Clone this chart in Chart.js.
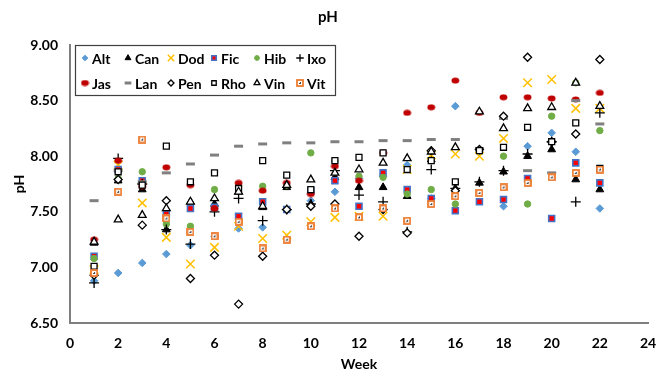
<!DOCTYPE html>
<html>
<head>
<meta charset="utf-8">
<script src="https://cdn.jsdelivr.net/npm/chart.js@4"></script>
<style>
  html, body { margin: 0; padding: 0; background: #fff; }
  #wrap { width: 670px; height: 380px; }
</style>
</head>
<body>
<div id="wrap"><canvas id="phChart" width="670" height="380"></canvas></div>
<script>
const weeks = [1, 2, 3, 4, 5, 6, 7, 8, 9, 10, 11, 12, 13, 14, 15, 16, 17, 18, 19, 20, 21, 22];
const seriesNames = ['Alt', 'Can', 'Dod', 'Fic', 'Hib', 'Ixo', 'Jas', 'Lan', 'Pen', 'Rho', 'Vin', 'Vit'];

const alt = [6.88, 6.95, 7.04, 7.12, 7.20, 7.28, 7.35, 7.36, 7.52, 7.60, 7.68, 7.80, 7.82, 7.92, 7.62, 8.45, 8.04, 7.55, 8.09, 8.21, 8.04, 7.53];
const can = [7.22, 7.78, 7.70, 7.34, 7.59, 7.57, 7.68, 7.54, 7.72, 7.57, 7.81, 7.72, 7.72, 7.64, 7.97, 7.71, 7.76, 7.86, 8.00, 8.06, 7.79, 7.70];
const dod = [6.98, 7.92, 7.58, 7.27, 7.03, 7.18, 7.37, 7.26, 7.29, 7.41, 7.45, 7.46, 7.46, 7.88, 8.01, 8.02, 8.00, 8.16, 8.66, 8.69, 8.43, 8.43];
const fic = [7.10, 7.88, 7.78, 7.48, 7.53, 7.54, 7.46, 7.59, 7.52, 7.69, 7.78, 7.55, 7.85, 7.70, 7.62, 7.51, 7.59, 7.61, 7.80, 7.44, 7.94, 7.76];
const hib = [7.08, 7.80, 7.86, 7.39, 7.37, 7.70, 7.73, 7.73, 7.74, 8.03, 7.96, 7.82, 7.81, 7.66, 7.70, 7.57, 8.05, 8.00, 7.57, 8.36, 8.66, 8.23];
const ixo = [6.86, 7.98, 7.75, 7.34, 7.21, 7.50, 7.62, 7.42, 7.52, 7.57, 7.87, 7.65, 7.59, 7.32, 7.88, 7.71, 7.77, 7.87, 8.02, 8.13, 7.59, 8.39];
const jas = [7.25, 7.96, 7.73, 7.90, 7.74, 7.53, 7.76, 7.69, 7.76, 7.66, 7.91, 7.78, 8.03, 8.39, 8.44, 8.68, 8.39, 8.53, 8.53, 8.52, 8.51, 8.57];
const lan = [7.60, 7.87, 7.77, 7.85, 7.93, 8.01, 8.09, 8.11, 8.12, 8.12, 8.13, 8.13, 8.14, 8.14, 8.15, 8.15, 8.07, 8.34, 7.87, 7.85, 8.50, 8.29];
const pen = [6.93, 7.79, 7.38, 7.60, 6.90, 7.11, 6.67, 7.10, 7.52, 7.55, 7.57, 7.28, 7.52, 7.31, 8.05, 7.69, 8.06, 8.36, 8.89, 8.13, 8.20, 8.87];
const rho = [7.01, 7.86, 7.74, 8.09, 7.77, 7.85, 7.71, 7.96, 7.83, 7.70, 7.96, 7.99, 8.03, 7.88, 7.96, 7.77, 8.05, 8.08, 8.26, 8.13, 8.30, 7.89];
const vin = [7.23, 7.43, 7.47, 7.53, 7.59, 7.62, 7.68, 7.55, 7.74, 7.79, 7.85, 7.88, 7.94, 7.98, 8.04, 8.08, 8.40, 8.25, 8.43, 8.44, 8.66, 8.45];
const vit = [6.95, 7.68, 8.15, 7.44, 7.32, 7.28, 7.41, 7.17, 7.25, 7.37, 7.53, 7.45, 7.53, 7.42, 7.57, 7.64, 7.67, 7.72, 7.76, 7.81, 7.85, 7.88];

const yTicks = [6.5, 7.0, 7.5, 8.0, 8.5, 9.0];
const xTicks = [0, 2, 4, 6, 8, 10, 12, 14, 16, 18, 20, 22, 24];

const FONT = 'Lato, "Open Sans", sans-serif';

// small canvas markers for the two odd excel symbols
const makeMarker = (w, h, draw) => {
  const c = document.createElement('canvas');
  c.width = w;
  c.height = h;
  draw(c.getContext('2d'), w, h);
  return c;
};

const jasDot = makeMarker(9, 7, (g, w, h) => {
  g.fillStyle = '#C00000';
  g.beginPath();
  g.ellipse(w / 2, h / 2, 3.9, 2.9, 0, 0, Math.PI * 2);
  g.fill();
});

const vitBox = makeMarker(8, 8, (g) => {
  g.fillStyle = '#fff';
  g.fillRect(1, 1, 6, 6);
  g.strokeStyle = '#ED7D31';
  g.lineWidth = 1.8;
  g.strokeRect(1, 1, 6, 6);
  g.fillStyle = '#404040';
  g.fillRect(3, 4, 2, 1);
  g.fillRect(4, 3, 1, 1);
});

const styles = [
  { pointStyle: 'rectRot', radius: 3.8, backgroundColor: '#5B9BD5', borderColor: '#5B9BD5', borderWidth: 1 },
  { pointStyle: 'triangle', radius: 4.5, backgroundColor: '#000', borderColor: '#000', borderWidth: 1 },
  { pointStyle: 'crossRot', radius: 6, backgroundColor: '#FFC000', borderColor: '#FFC000', borderWidth: 1.5 },
  { pointStyle: 'rect', radius: 4.2, backgroundColor: '#FF0000', borderColor: '#4472C4', borderWidth: 1.6 },
  { pointStyle: 'circle', radius: 3.2, backgroundColor: '#70AD47', borderColor: '#70AD47', borderWidth: 1 },
  { pointStyle: 'cross', radius: 5, backgroundColor: '#000', borderColor: '#000', borderWidth: 1.3 },
  { pointStyle: jasDot, radius: 4, backgroundColor: '#C00000', borderColor: '#C00000', borderWidth: 0 },
  { pointStyle: 'line', radius: 4.5, backgroundColor: '#808080', borderColor: '#808080', borderWidth: 3 },
  { pointStyle: 'rectRot', radius: 4, backgroundColor: '#fff', borderColor: '#000', borderWidth: 1.3 },
  { pointStyle: 'rect', radius: 4.2, backgroundColor: '#fff', borderColor: '#000', borderWidth: 1.3 },
  { pointStyle: 'triangle', radius: 4.5, backgroundColor: '#fff', borderColor: '#000', borderWidth: 1.3 },
  { pointStyle: vitBox, radius: 4, backgroundColor: '#fff', borderColor: '#ED7D31', borderWidth: 0 }
];

const values = [alt, can, dod, fic, hib, ixo, jas, lan, pen, rho, vin, vit];

const datasets = seriesNames.map((name, i) => ({
  label: name,
  data: weeks.map((w, j) => ({ x: w, y: values[i][j] })),
  pointStyle: styles[i].pointStyle,
  pointRadius: styles[i].radius,
  pointHoverRadius: styles[i].radius,
  pointBackgroundColor: styles[i].backgroundColor,
  pointBorderColor: styles[i].borderColor,
  pointBorderWidth: styles[i].borderWidth,
  backgroundColor: styles[i].backgroundColor,
  borderColor: styles[i].borderColor,
  showLine: false,
  order: seriesNames.length - i
}));

// legend box sits inside the plot, two rows of six like the excel one
const boxLegend = {
  id: 'boxLegend',
  afterDraw(chart) {
    const ctx = chart.ctx;
    const left = chart.chartArea.left + 5;
    const top = chart.chartArea.top;
    ctx.save();
    ctx.fillStyle = '#fff';
    ctx.fillRect(left, top, 260, 50);
    ctx.strokeStyle = '#404040';
    ctx.lineWidth = 1.2;
    ctx.strokeRect(left + 0.5, top + 0.5, 260, 50);
    ctx.font = 'bold 14px ' + FONT;
    ctx.textBaseline = 'middle';
    seriesNames.forEach((name, i) => {
      const col = i % 6;
      const row = Math.floor(i / 6);
      const mx = left + 10 + col * 43;
      const my = top + 13 + row * 25;
      const s = styles[i];
      ctx.fillStyle = s.backgroundColor;
      ctx.strokeStyle = s.borderColor;
      ctx.lineWidth = s.borderWidth;
      Chart.helpers.drawPoint(ctx, {
        pointStyle: s.pointStyle,
        radius: typeof s.pointStyle === 'string' ? s.radius * 0.75 : s.radius,
        borderWidth: s.borderWidth,
        rotation: 0
      }, mx, my);
      ctx.fillStyle = '#000';
      ctx.fillText(name, mx + 7, my + 1);
    });
    ctx.restore();
  }
};

new Chart(document.getElementById('phChart'), {
  type: 'scatter',
  data: { datasets: datasets },
  options: {
    responsive: false,
    animation: false,
    layout: { padding: { left: 8, right: 22, top: 0, bottom: 0 } },
    plugins: {
      legend: { display: false },
      tooltip: { enabled: false },
      title: {
        display: true,
        text: 'pH',
        color: '#000',
        font: { family: FONT, size: 15, weight: 'bold' },
        padding: { top: 8, bottom: 19 }
      }
    },
    scales: {
      x: {
        type: 'linear',
        min: 0,
        max: 24,
        afterBuildTicks: (scale) => { scale.ticks = xTicks.map(v => ({ value: v })); },
        afterFit: (scale) => { scale.height = 57; },
        grid: { display: false, drawTicks: false },
        border: { display: true, color: '#7F7F7F', width: 2 },
        ticks: {
          color: '#000',
          padding: 12,
          font: { family: FONT, size: 14, weight: 'bold' }
        },
        title: {
          display: true,
          text: 'Week',
          color: '#000',
          font: { family: FONT, size: 14, weight: 'bold' },
          padding: { top: 3, bottom: 7 }
        }
      },
      y: {
        type: 'linear',
        min: 6.5,
        max: 9,
        afterBuildTicks: (scale) => { scale.ticks = yTicks.map(v => ({ value: v })); },
        afterFit: (scale) => { scale.width = 62; },
        grid: { display: false, drawTicks: false },
        border: { display: true, color: '#7F7F7F', width: 2 },
        ticks: {
          color: '#000',
          padding: 12,
          font: { family: FONT, size: 14, weight: 'bold' },
          callback: (v) => Number(v).toFixed(2)
        },
        title: {
          display: true,
          text: 'pH',
          color: '#000',
          font: { family: FONT, size: 14, weight: 'bold' },
          padding: { top: 3, bottom: 0 }
        }
      }
    }
  },
  plugins: [boxLegend]
});
</script>
</body>
</html>
